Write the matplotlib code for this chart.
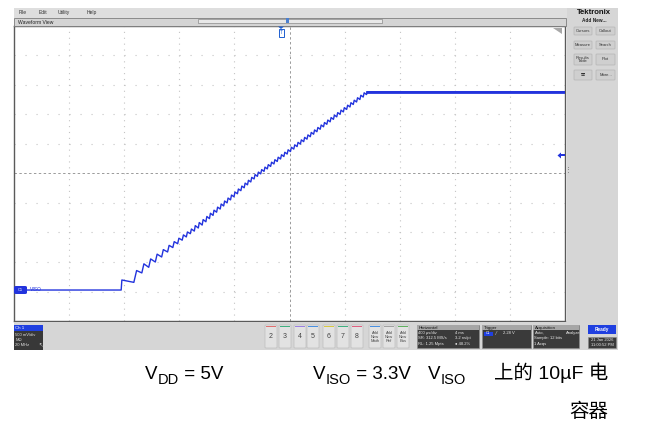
import matplotlib
matplotlib.use("Agg")
import matplotlib.pyplot as plt
from matplotlib.patches import Rectangle, FancyBboxPatch, Polygon

#####################
# Data (Ch1 = V_ISO, 500 mV/div, 400 us/div)
#####################

t_start, t_end = -1.938, 2.062      # ms, trigger at 0
v_bottom, v_top = -0.525, 4.475     # V
time_div = 0.4                      # ms/div
volt_div = 0.5                      # V/div

baseline_v = 0.0
settled_v = 3.36
trigger_level = 2.28

# sawtooth: trough before each charge pulse, peak after it
lo_t = [-1.160, -1.068, -1.010, -0.960, -0.912, -0.866, -0.823, -0.785, -0.750, -0.717, -0.687, -0.658,
        -0.629, -0.600, -0.572, -0.545, -0.519, -0.493, -0.467, -0.441, -0.416, -0.391, -0.366, -0.341,
        -0.316, -0.291, -0.267, -0.243, -0.219, -0.195, -0.171, -0.147, -0.123, -0.099, -0.075, -0.051,
        -0.027, -0.003, 0.021, 0.045, 0.069, 0.093, 0.117, 0.141, 0.165, 0.189, 0.213, 0.237, 0.261,
        0.285, 0.309, 0.333, 0.357, 0.381, 0.405, 0.429, 0.453, 0.477, 0.501, 0.525, 0.549, 0.573,
        0.597, 0.621]
lo_v = [0.000, 0.130, 0.290, 0.385, 0.475, 0.560, 0.645, 0.720, 0.785, 0.845, 0.900, 0.955,
        0.999, 1.051, 1.101, 1.157, 1.210, 1.265, 1.319, 1.373, 1.425, 1.477, 1.528, 1.580,
        1.632, 1.684, 1.733, 1.783, 1.832, 1.883, 1.927, 1.969, 2.011, 2.053, 2.095, 2.137,
        2.179, 2.221, 2.263, 2.305, 2.347, 2.389, 2.431, 2.473, 2.515, 2.557, 2.599, 2.641, 2.683,
        2.725, 2.767, 2.809, 2.851, 2.893, 2.935, 2.977, 3.019, 3.061, 3.103, 3.145, 3.187, 3.229,
        3.271, 3.313]
hi_t = [-1.155, -1.048, -0.995, -0.946, -0.899, -0.854, -0.812, -0.775, -0.741, -0.708, -0.679, -0.650,
        -0.622, -0.593, -0.565, -0.538, -0.512, -0.486, -0.460, -0.434, -0.409, -0.384, -0.359, -0.334,
        -0.309, -0.284, -0.260, -0.236, -0.212, -0.188, -0.164, -0.140, -0.116, -0.092, -0.068, -0.044,
        -0.020, 0.004, 0.028, 0.052, 0.076, 0.100, 0.124, 0.148, 0.172, 0.196, 0.220, 0.244, 0.268,
        0.292, 0.316, 0.340, 0.364, 0.388, 0.412, 0.436, 0.460, 0.484, 0.508, 0.532, 0.556, 0.580,
        0.604, 0.628]
hi_v = [0.170, 0.330, 0.444, 0.527, 0.608, 0.685, 0.757, 0.820, 0.878, 0.934, 0.984, 1.034,
        1.092, 1.144, 1.194, 1.247, 1.301, 1.353, 1.405, 1.458, 1.509, 1.559, 1.610, 1.661,
        1.712, 1.762, 1.812, 1.860, 1.909, 1.957, 1.999, 2.041, 2.083, 2.125, 2.167, 2.209,
        2.251, 2.293, 2.335, 2.377, 2.419, 2.461, 2.503, 2.545, 2.587, 2.629, 2.671, 2.713, 2.755,
        2.797, 2.839, 2.881, 2.923, 2.965, 3.007, 3.049, 3.091, 3.133, 3.175, 3.217, 3.259, 3.301,
        3.343, 3.360]

channel_nums = ["2", "3", "4", "5", "6", "7", "8"]
channel_cols = ["#e07070", "#40b080", "#9a80e0", "#4a90e0", "#d8c840", "#40b080", "#e06080"]
add_labels = ["Add\nNew\nMath", "Add\nNew\nRef", "Add\nNew\nBus"]
add_cols = ["#4a90e0", "#a0a0a0", "#60b060"]

# caption pieces: (text, is_subscript)
caption_1 = [("V", False), ("DD", True), (" = 5V", False)]
caption_2 = [("V", False), ("ISO", True), (" = 3.3V", False)]
caption_3 = [("V", False), ("ISO", True)]
caption_3b = "\u4e0a\u7684 10\u00b5F \u7535"
caption_4 = "\u5bb9\u5668"

#####################
# Setup
#####################

plt.rcParams["font.family"] = ["Liberation Sans", "Noto Sans CJK SC", "DejaVu Sans"]

W, H = 647, 421
fig = plt.figure(figsize=(W / 100, H / 100), dpi=100)
fig.patch.set_facecolor("white")

BLUE = "#2233dd"
UI_FONT = 3.6


def rect(x0, y0, x1, y1, z=1, **kw):
    r = Rectangle((x0 / W, 1 - y1 / H), (x1 - x0) / W, (y1 - y0) / H,
                  transform=fig.transFigure, zorder=z, **kw)
    fig.patches.append(r)
    return r


def rrect(x0, y0, x1, y1, z=1, pad=1.0, **kw):
    r = FancyBboxPatch((x0 / W, 1 - y1 / H), (x1 - x0) / W, (y1 - y0) / H,
                       boxstyle=f"round,pad=0,rounding_size={pad / W}",
                       transform=fig.transFigure, zorder=z, **kw)
    fig.patches.append(r)
    return r


def text(x, y, s, **kw):
    kw.setdefault("fontsize", UI_FONT)
    kw.setdefault("va", "center")
    return fig.text(x / W, 1 - y / H, s, **kw)


def poly(pts, z=5, **kw):
    p = Polygon([(x / W, 1 - y / H) for x, y in pts], closed=True,
                transform=fig.transFigure, zorder=z, **kw)
    fig.patches.append(p)
    return p


#####################
# Scope chrome
#####################

# menu bar
rect(14, 8, 567, 18, facecolor="#dedede", edgecolor="none")
for x, s in [(19, "File"), (39, "Edit"), (58, "Utility"), (87, "Help")]:
    text(x, 12.5, s, color="#333333")

# waveform header
rect(14, 18, 566, 26, facecolor="#d4d4d4", edgecolor="#7a7a7a", linewidth=0.6)
text(18, 22, "Waveform View", color="#222222")
rect(198, 19.5, 382, 23, facecolor="#e8e8e8", edgecolor="#8a8a8a", linewidth=0.5, z=2)
rect(286, 18.5, 288.5, 23, facecolor="#4a7fd0", edgecolor="none", z=3)

# right panel
rect(567, 8, 618, 350, facecolor="#d6d6d6", edgecolor="none")
text(594, 12.5, "Tektronix", fontsize=5.6, fontweight="bold", ha="center", color="#111111")
text(594, 20, "Add New...", fontsize=3.4, fontweight="bold", ha="center", color="#222222")
buttons = [(574, 27, 592, 35, "Cursors"), (596, 27, 615, 35, "Callout"),
           (574, 41, 592, 49, "Measure"), (596, 41, 615, 49, "Search"),
           (574, 54, 592, 65, "Results\nTable"), (596, 54, 615, 65, "Plot"),
           (574, 70, 592, 80, "\u25a6"), (596, 70, 615, 80, "More...")]
for x0, y0, x1, y1, s in buttons:
    rrect(x0, y0, x1, y1, facecolor="#cfcfcf", edgecolor="#b5b5b5", linewidth=0.5, z=2)
    text((x0 + x1) / 2, (y0 + y1) / 2, s, ha="center", fontsize=3.0, color="#333333",
         linespacing=0.9, zorder=3)
text(568.5, 170, "\u22ee", fontsize=5, ha="center", color="#666666")

# bottom bar
rect(14, 322, 618, 350, facecolor="#d6d6d6", edgecolor="none")

# Ch1 badge
rect(14, 325, 43, 350, facecolor="#383838", edgecolor="none", z=2)
rect(14, 325, 43, 331, facecolor="#1f3fe0", edgecolor="none", z=3)
text(15.5, 328, "Ch 1", color="white", fontsize=3.2, zorder=4)
text(15.5, 334.5, "500 mV/div", color="#dddddd", fontsize=3.0, zorder=4)
text(15.5, 340, "M\u03a9", color="#dddddd", fontsize=3.0, zorder=4)
text(15.5, 345.5, "20 MHz", color="#dddddd", fontsize=3.0, zorder=4)
text(38, 345.5, "\u2196", color="#dddddd", fontsize=3.4, zorder=4)

# channel buttons
ch_x = [265, 279, 294, 307, 323, 337, 351]
for x0, n, c in zip(ch_x, channel_nums, channel_cols):
    rrect(x0, 325, x0 + 12, 348, facecolor="#e2e2e2", edgecolor="#bdbdbd", linewidth=0.5, z=2)
    rect(x0 + 1, 325.6, x0 + 11, 326.6, facecolor=c, edgecolor="none", z=3)
    text(x0 + 6, 337, n, ha="center", fontsize=5.0, color="#444444", zorder=4)

for x0, s, c in zip([369, 383, 397], add_labels, add_cols):
    rrect(x0, 325, x0 + 12, 348, facecolor="#e2e2e2", edgecolor="#bdbdbd", linewidth=0.5, z=2)
    rect(x0 + 1, 325.6, x0 + 11, 326.6, facecolor=c, edgecolor="none", z=3)
    text(x0 + 6, 337, s, ha="center", fontsize=2.9, color="#444444", linespacing=0.9, zorder=4)

# info boxes
for x0, x1, title in [(417, 479, "Horizontal"), (482, 531, "Trigger"), (533, 579, "Acquisition")]:
    rect(x0, 325, x1, 348, facecolor="#3a3a3a", edgecolor="#8a8a8a", linewidth=0.4, z=2)
    rect(x0, 325, x1, 330, facecolor="#a6a6a6", edgecolor="none", z=3)
    text(x0 + 1.5, 327.6, title, color="#111111", fontsize=3.2, zorder=4)

hz_lines = [("400 \u00b5s/div", "4 ms"), ("SR: 312.5 MS/s", "3.2 ns/pt"), ("RL: 1.25 Mpts", "\u25cf 48.2%")]
for i, (a, b) in enumerate(hz_lines):
    text(418.5, 333 + i * 5.3, a, color="#e8e8e8", fontsize=3.0, zorder=4)
    text(455, 333 + i * 5.3, b, color="#e8e8e8", fontsize=3.0, zorder=4)
rect(484, 331.5, 493, 335.5, facecolor="#1f3fe0", edgecolor="none", z=4)
text(488.5, 333.5, "C1", color="white", fontsize=2.6, ha="center", zorder=5)
text(496, 333.5, "\u2044", color="#e8e8e8", fontsize=3.4, zorder=4)
text(503, 333.5, "2.28 V", color="#e8e8e8", fontsize=3.0, zorder=4)
acq_lines = [("Auto,", "Analyze"), ("Sample: 12 bits", ""), ("1 Acqs", "")]
for i, (a, b) in enumerate(acq_lines):
    text(534.5, 333 + i * 5.3, a, color="#e8e8e8", fontsize=3.0, zorder=4)
    if b:
        text(566, 333 + i * 5.3, b, color="#e8e8e8", fontsize=3.0, zorder=4)

rect(588, 325, 616, 334, facecolor="#1f3fe0", edgecolor="none", z=2)
text(602, 329.5, "Ready", color="white", fontsize=3.4, fontweight="bold", ha="center", zorder=4)
rect(588, 337, 616, 348, facecolor="#3a3a3a", edgecolor="#8a8a8a", linewidth=0.4, z=2)
text(602, 340, "21 Jan 2026", color="#e8e8e8", fontsize=3.0, ha="center", zorder=4)
text(602, 345, "11:00:52 PM", color="#e8e8e8", fontsize=3.0, ha="center", zorder=4)

#####################
# Waveform view
#####################

ax = fig.add_axes([14 / W, 1 - 321 / H, 551 / W, 295 / H])
ax.set_facecolor("white")
ax.set_xlim(t_start, t_end)
ax.set_ylim(v_bottom, v_top)

# graticule
for k in range(1, 10):
    x = t_start + k * time_div
    y = v_bottom + k * volt_div
    if k == 5:
        ax.axvline(x, color="#9a9a9a", linewidth=0.7, linestyle=(0, (2.5, 2.5)), zorder=1)
        ax.axhline(y, color="#9a9a9a", linewidth=0.7, linestyle=(0, (2.5, 2.5)), zorder=1)
    else:
        ax.axvline(x, color="#c4c4c4", linewidth=0.8, linestyle=(0, (1, 4.3)), zorder=1)
        ax.axhline(y, color="#c4c4c4", linewidth=0.8, linestyle=(0, (1, 8.9)), zorder=1)
ax.set_xticks([])
ax.set_yticks([])
for s in ax.spines.values():
    s.set_color("#5a5a5a")
    s.set_linewidth(1.0)

# assemble the trace from the readings
wave_t = [t_start]
wave_v = [baseline_v]
for a, b, c, d in zip(lo_t, lo_v, hi_t, hi_v):
    wave_t += [a, c]
    wave_v += [b, d]
wave_t.append(t_end)
wave_v.append(settled_v)

ax.plot(wave_t, wave_v, color=BLUE, linewidth=1.0, zorder=3)
ax.plot([hi_t[-1], t_end], [settled_v, settled_v], color=BLUE, linewidth=2.0, zorder=3)

# ground marker + label
rrect(14, 286, 27, 294, pad=2.0, facecolor=BLUE, edgecolor="none", z=5)
text(20.5, 290, "C1", color="white", fontsize=2.8, ha="center", zorder=6)
text(30, 289.6, "VISO", color=BLUE, fontsize=3.6, zorder=6)

# trigger position marker (top)
poly([(278, 26.5), (284, 26.5), (281, 29)], facecolor="#1f5fd0", edgecolor="none")
rect(278.5, 29.5, 283.5, 36.5, facecolor="white", edgecolor="#1f5fd0", linewidth=0.7, z=5)
text(281, 33, "T", color="#1f5fd0", fontsize=3.4, ha="center", zorder=6)

# trigger level marker (right)
ty = 290 - trigger_level * 59
poly([(557.5, ty), (561, ty - 3), (561, ty + 3)], facecolor=BLUE, edgecolor="none")
rect(560.5, ty - 1, 564.5, ty + 1, facecolor=BLUE, edgecolor="none", z=5)

# folded corner at top right
poly([(553, 28), (562, 28), (562, 34)], facecolor="#a8a8a8", edgecolor="none")

#####################
# Caption (subscripts set piece by piece)
#####################

MAIN_SIZE = 13.5
SUB_SIZE = 10.5
SUB_DROP = 4.5
renderer = fig.canvas.get_renderer()


def caption(x, y, pieces):
    for s, sub in pieces:
        t = text(x, y + (SUB_DROP if sub else 0), s, fontsize=SUB_SIZE if sub else MAIN_SIZE,
                 va="baseline", color="black")
        x += t.get_window_extent(renderer).width


caption(145, 379, caption_1)
caption(313, 379, caption_2)
caption(428, 379, caption_3)
text(608, 379, caption_3b, fontsize=14, va="baseline", ha="right", color="black")
text(608, 417, caption_4, fontsize=14, va="baseline", ha="right", color="black")

plt.savefig("out.png", dpi=100)
